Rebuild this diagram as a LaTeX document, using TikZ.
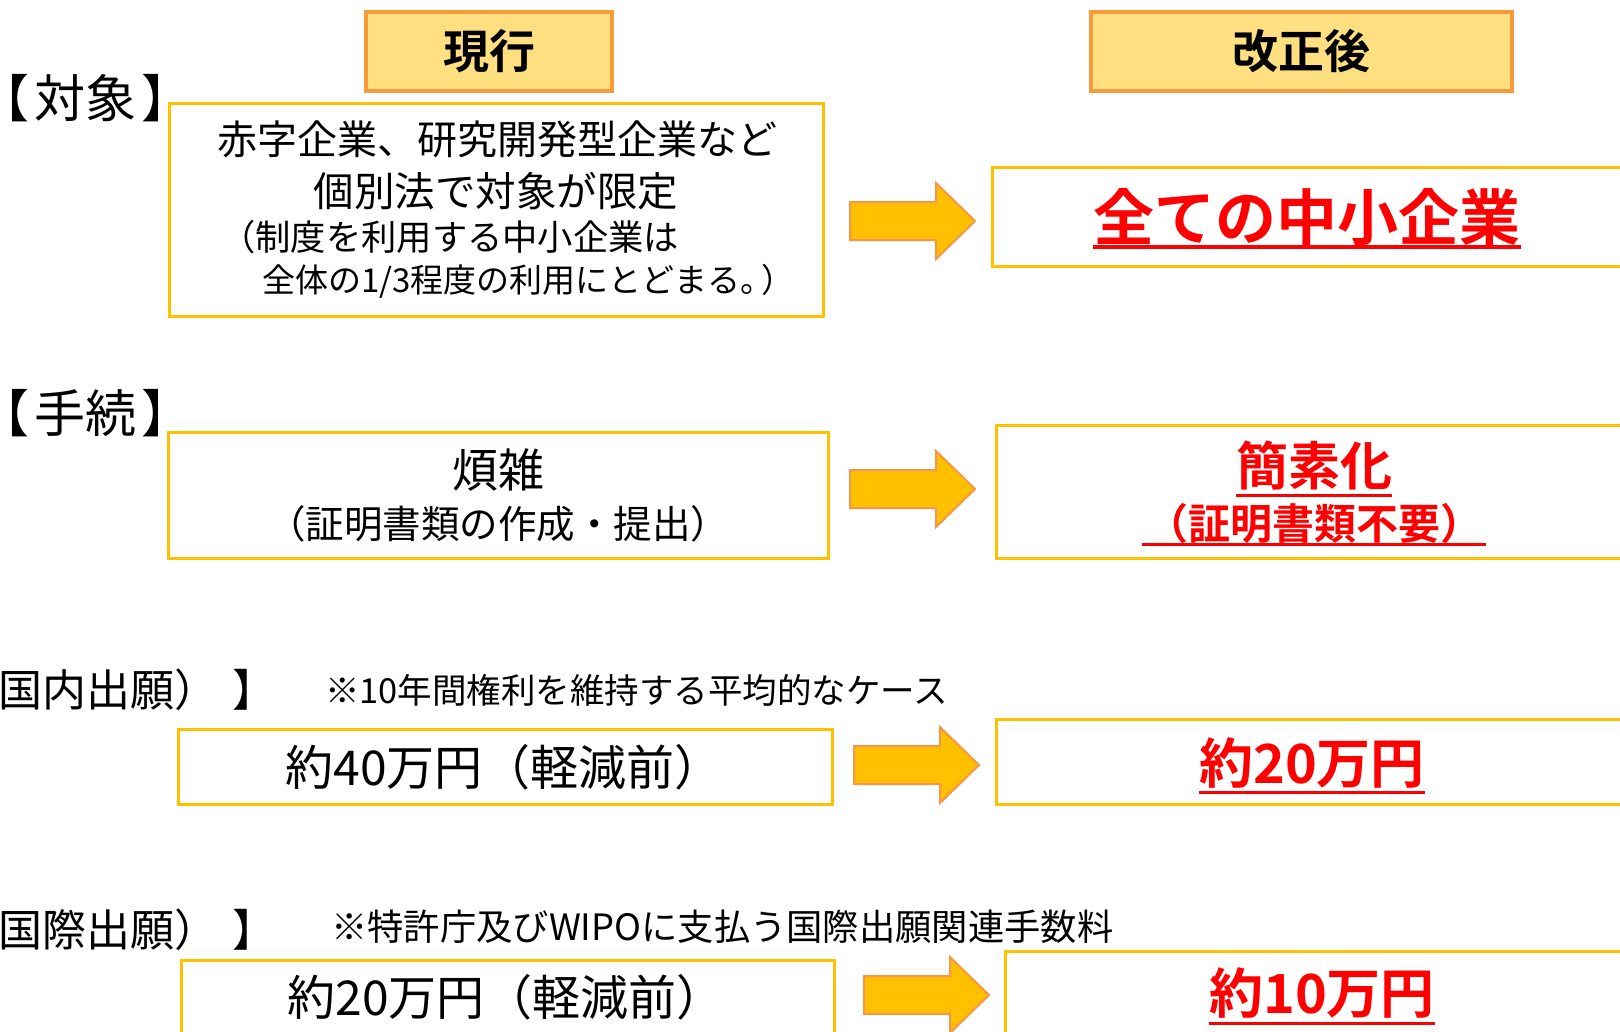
\documentclass[tikz,border=0pt]{standalone}
\usepackage{fontspec}
\setmainfont{Noto Sans CJK JP}[BoldFont={Noto Sans CJK JP Bold}]
\newfontfamily\jplab{Noto Sans CJK JP}[RawFeature=+palt]
\definecolor{gold}{HTML}{FFC000}
\definecolor{hdrfill}{HTML}{FFE081}
\definecolor{hdrdraw}{HTML}{F99A3A}
\definecolor{arrdraw}{HTML}{F79646}
\definecolor{red0}{HTML}{FF0000}
\newcommand\fsz[1]{\fontsize{#1}{#1}\selectfont}
\newcommand\blockarrow[2]{%
  \draw[barrow] (#1,#2-19) -- (#1+86,#2-19) -- (#1+86,#2-38) -- (#1+125,#2)
    -- (#1+86,#2+38) -- (#1+86,#2+19) -- (#1,#2+19) -- cycle;}
\begin{document}
\begin{tikzpicture}[x=1pt,y=-1pt,
  hdr/.style={draw=hdrdraw,fill=hdrfill,line width=4pt,inner sep=0pt,font=\fsz{46}\bfseries},
  box/.style={draw=gold,line width=3pt,inner sep=0pt},
  txt/.style={inner sep=0pt,font=\fsz{40}},
  lab/.style={inner sep=0pt,anchor=west,font=\jplab\fsz{51}},
  red/.style={inner sep=0pt,text=red0,font=\bfseries},
  ul/.style={draw=red0,line width=4pt},
  barrow/.style={fill=gold,draw=arrdraw,line width=2pt,line join=miter}]
\useasboundingbox (0,0) rectangle (1620,1031);
\clip (0,0) rectangle (1620,1031);
% headers
\node[hdr,minimum width=246pt,minimum height=79pt] (hA) at (489,51.5) {現行};
\node[hdr,minimum width=421pt,minimum height=79pt] (hB) at (1301.5,51.5) {改正後};
% section labels
\node[lab] (l1) at (3,98) {【\kern6pt対象\kern6pt】};
\node[lab] (l2) at (3,413) {【\kern6pt手続\kern6pt】};
\node[txt,anchor=west,font=\fsz{44}] (l3) at (0,690) {\kern-2pt国内出願）\kern14pt】};
\node[txt,anchor=west,font=\fsz{34.5}] (n3) at (325,690) {※10年間権利を維持する平均的なケース};
\node[txt,anchor=west,font=\fsz{44}] (l4) at (0,930) {\kern-2pt国際出願）\kern14pt】};
\node[txt,anchor=west,font=\fsz{36.3}] (n4) at (331,927) {※特許庁及びWIPOに支払う国際出願関連手数料};
% left boxes
\node[box,minimum width=654pt,minimum height=213pt] (b1) at (496,209.5) {};
\node[box,minimum width=660pt,minimum height=126pt] (b2) at (498,495) {};
\node[box,minimum width=654pt,minimum height=75pt] (b3) at (505,766.5) {};
\node[box,minimum width=653pt,minimum height=82pt,anchor=north] (b4) at (507.5,959) {};
% right boxes
\node[box,minimum width=648pt,minimum height=99pt] (r1) at (1316,216.5) {};
\node[box,minimum width=644pt,minimum height=133pt] (r2) at (1318,491.5) {};
\node[box,minimum width=644pt,minimum height=85pt] (r3) at (1318,761.5) {};
\node[box,minimum width=635pt,minimum height=95pt,anchor=north] (r4) at (1322.5,950) {};
% left texts
\node[txt] (t1a) at (497,139) {赤字企業、研究開発型企業など};
\node[txt,font=\fsz{40.5}] (t1b) at (496,191) {個別法で対象が限定};
\node[txt,anchor=west,font=\fsz{35.3}] (t1c) at (220,237) {（制度を利用する中小企業は};
\node[txt,anchor=west,font=\fsz{33}] (t1d) at (262,281) {全体の1/3程度の利用にとどまる。\kern-12pt）};
\node[txt,font=\fsz{46}] (t2a) at (498,470) {煩雑};
\node[txt,font=\fsz{38.5}] (t2b) at (498,524) {（証明書類の作成・提出）};
\node[txt,font=\fsz{48}] (t3) at (504,767) {約40万円（軽減前）};
\node[txt,font=\fsz{48}] (t4) at (506,997) {約20万円（軽減前）};
% arrows
\blockarrow{850}{221}
\blockarrow{850}{489}
\blockarrow{854}{765}
\blockarrow{864}{995}
% right texts
\node[red,font=\fsz{61}\bfseries] (s1) at (1307,217) {全ての中小企業};
\node[red,font=\fsz{52}\bfseries] (s2a) at (1314,466) {簡素化};
\node[red,font=\fsz{42}\bfseries] (s2b) at (1314,524) {（証明書類不要）};
\node[red,font=\fsz{54}\bfseries] (s3) at (1312,763) {約20万円};
\node[red,font=\fsz{54}\bfseries] (s4) at (1322,993) {約10万円};
% underlines
\coordinate (u1) at (0,247);
\coordinate (u2) at (0,495);
\coordinate (u3) at (0,544);
\coordinate (u4) at (0,792);
\coordinate (u5) at (0,1023);
\draw[ul] (s1.west |- u1) -- (s1.east |- u1);
\draw[ul,line width=3pt] (s2a.west |- u2) -- (s2a.east |- u2);
\draw[ul,line width=3pt] ([xshift=-4pt]s2b.west |- u3) -- ([xshift=4pt]s2b.east |- u3);
\draw[ul,line width=3pt] (s3.west |- u4) -- (s3.east |- u4);
\draw[ul,line width=3pt] (s4.west |- u5) -- (s4.east |- u5);
\end{tikzpicture}
\end{document}
